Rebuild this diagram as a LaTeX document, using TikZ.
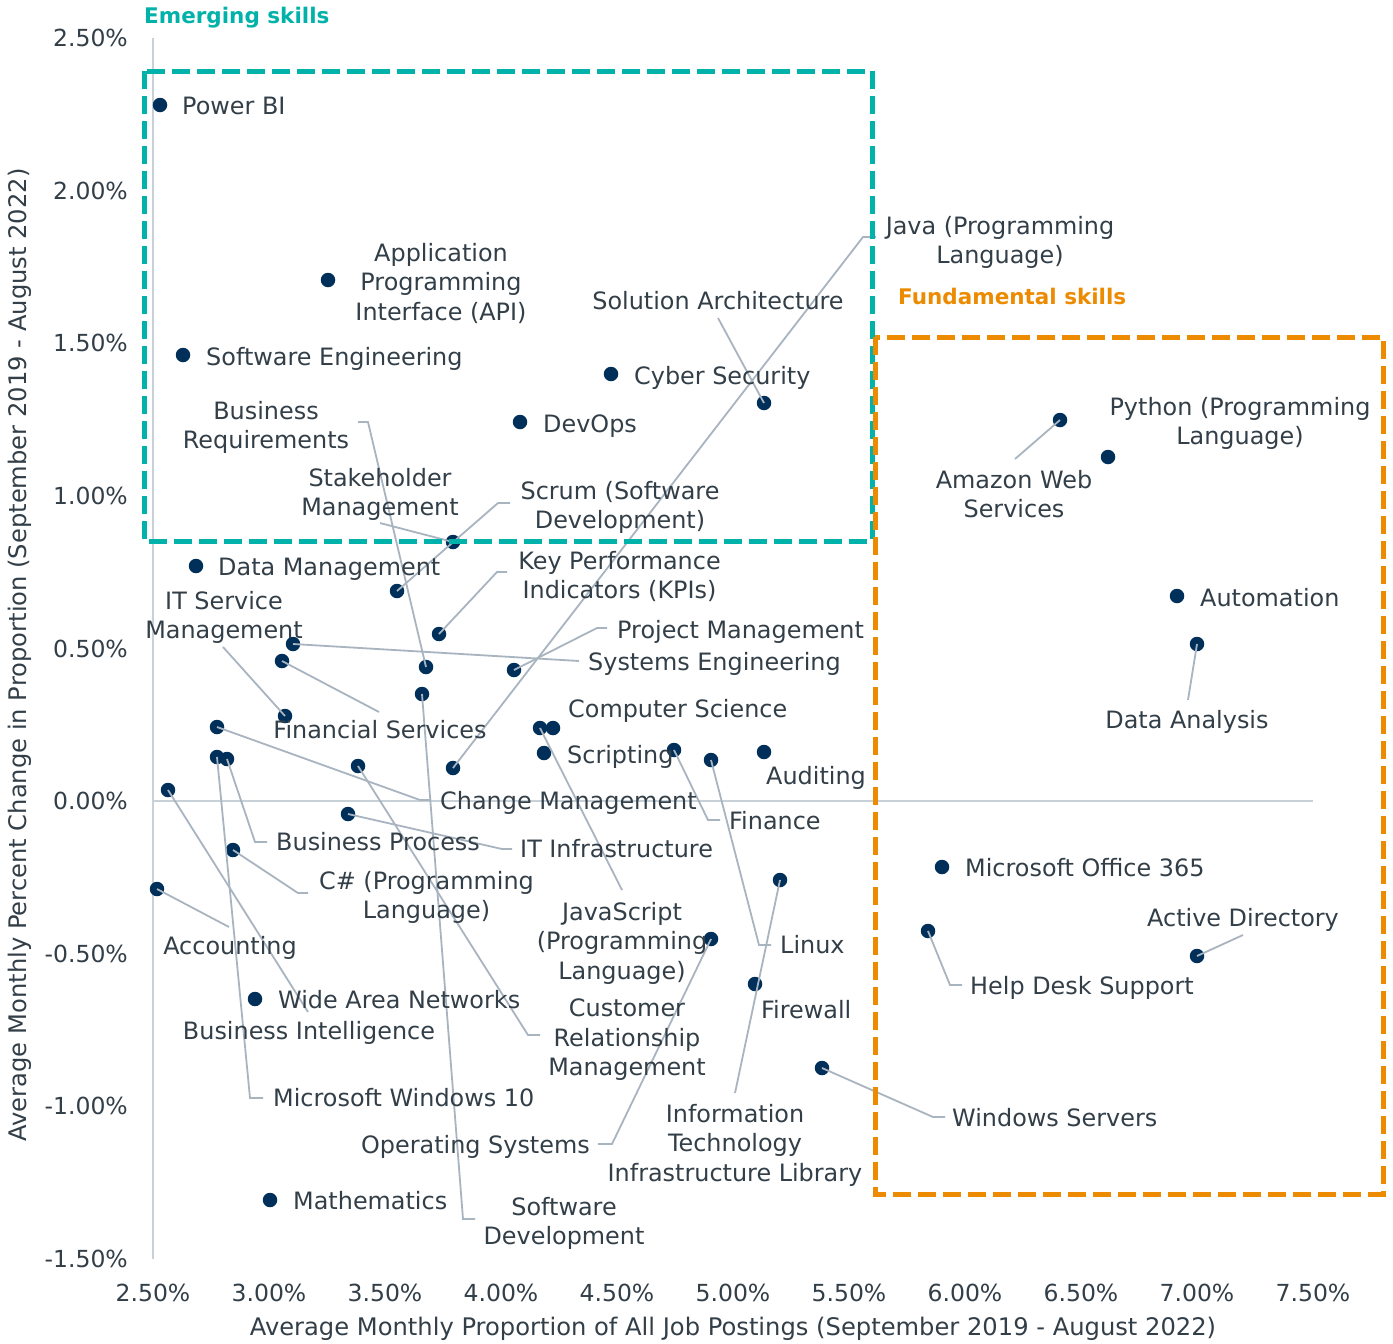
\documentclass[tikz,border=0pt]{standalone}
\usepackage{fontspec}
\setmainfont{DejaVu Sans}
\definecolor{teal}{HTML}{00B2A9}
\definecolor{orng}{HTML}{ED8B00}
\definecolor{dotc}{HTML}{00305A}
\definecolor{txtc}{HTML}{333F48}
\definecolor{leadc}{HTML}{A9B4C1}
\definecolor{axisc}{HTML}{C8D0D8}
\tikzset{
  lbl/.style={font=\fontsize{23.9}{29.5}\selectfont, text=txtc, inner sep=0pt},
  sl/.style={lbl, anchor=base west},
  slc/.style={lbl, anchor=base},
  ml/.style={lbl, align=center, anchor=north},
  tick/.style={font=\fontsize{23.5}{27}\selectfont, text=txtc, inner sep=0pt},
  axtitle/.style={font=\fontsize{24.2}{28}\selectfont, text=txtc, inner sep=0pt},
  grp/.style={font=\bfseries\fontsize{21.5}{25}\selectfont, inner sep=0pt, anchor=west},
  sdot/.style={circle, fill=dotc, inner sep=0pt, minimum size=14.5pt},
  lead/.style={draw=leadc, line width=1.8pt},
  box/.style={line width=5pt, dash pattern=on 18pt off 7pt},
}
\begin{document}
\begin{tikzpicture}[x=1pt,y=-1pt]
\fill[white] (0,0) rectangle (1393,1344);
\useasboundingbox (0,0) rectangle (1393,1344);

% axes
\draw[axisc, line width=2pt] (153,38) -- (153,1259);
\draw[axisc, line width=2pt] (153,801) -- (1313,801);

% tick labels
\foreach \v [count=\i from 0] in {2.50\%,2.00\%,1.50\%,1.00\%,0.50\%,0.00\%,-0.50\%,-1.00\%,-1.50\%}
  \node[tick, anchor=east] (yt\i) at (128,{38+\i*152.625}) {\v};
\foreach \v [count=\i from 0] in {2.50\%,3.00\%,3.50\%,4.00\%,4.50\%,5.00\%,5.50\%,6.00\%,6.50\%,7.00\%,7.50\%}
  \node[tick] (xt\i) at ({153+\i*116},1293) {\v};

\node[axtitle] (xtitle) at (733,1329) {Average Monthly Proportion of All Job Postings (September 2019 - August 2022)};
\node[axtitle, rotate=90] (ytitle) at (20,655) {Average Monthly Percent Change in Proportion (September 2019 - August 2022)};

% dots
\node[sdot] (d-pbi)  at (160,105) {};
\node[sdot] (d-api)  at (328,280) {};
\node[sdot] (d-swe)  at (183,355) {};
\node[sdot] (d-cyb)  at (611,374) {};
\node[sdot] (d-dev)  at (520,422) {};
\node[sdot] (d-sol)  at (764,403) {};
\node[sdot] (d-stk)  at (453,542) {};
\node[sdot] (d-dm)   at (196,566) {};
\node[sdot] (d-scr)  at (397,591) {};
\node[sdot] (d-kpi)  at (439,634) {};
\node[sdot] (d-sys)  at (293,644) {};
\node[sdot] (d-fin)  at (282,661) {};
\node[sdot] (d-brq)  at (426,667) {};
\node[sdot] (d-pm)   at (514,670) {};
\node[sdot] (d-sdv)  at (422,694) {};
\node[sdot] (d-itsm) at (285,716) {};
\node[sdot] (d-chg)  at (217,727) {};
\node[sdot] (d-js)   at (540,728) {};
\node[sdot] (d-cs)   at (553,728) {};
\node[sdot] (d-scp)  at (544,753) {};
\node[sdot] (d-fnc)  at (674,750) {};
\node[sdot] (d-lnx)  at (711,760) {};
\node[sdot] (d-aud)  at (764,752) {};
\node[sdot] (d-w10)  at (217,757) {};
\node[sdot] (d-bp)   at (227,759) {};
\node[sdot] (d-crm)  at (358,766) {};
\node[sdot] (d-java) at (453,768) {};
\node[sdot] (d-bi)   at (168,790) {};
\node[sdot] (d-iti)  at (348,814) {};
\node[sdot] (d-cs2)  at (233,850) {};
\node[sdot] (d-acc)  at (157,889) {};
\node[sdot] (d-itil) at (780,880) {};
\node[sdot] (d-os)   at (711,939) {};
\node[sdot] (d-fw)   at (755,984) {};
\node[sdot] (d-wan)  at (255,999) {};
\node[sdot] (d-wsv)  at (822,1068) {};
\node[sdot] (d-math) at (270,1200) {};
\node[sdot] (d-aws)  at (1060,420) {};
\node[sdot] (d-py)   at (1108,457) {};
\node[sdot] (d-auto) at (1177,596) {};
\node[sdot] (d-da)   at (1197,644) {};
\node[sdot] (d-o365) at (942,867) {};
\node[sdot] (d-hd)   at (928,931) {};
\node[sdot] (d-ad)   at (1197,956) {};

% leader end coordinates
\coordinate (c-sol)  at (718,318);
\coordinate (c-java) at (876,237);
\coordinate (c-aws)  at (1015,459);
\coordinate (c-da)   at (1188,700);
\coordinate (c-ad)   at (1243,935);
\coordinate (c-hd)   at (962,985);
\coordinate (c-wsv)  at (945,1117);
\coordinate (c-itil) at (735,1093);
\coordinate (c-lnx)  at (771,945);
\coordinate (c-fnc)  at (720,820);
\coordinate (c-js)   at (622,890);
\coordinate (c-iti)  at (512,849);
\coordinate (c-bp)   at (267,842);
\coordinate (c-w10)  at (263,1098);
\coordinate (c-chg)  at (431,800);
\coordinate (c-fin)  at (379,712);
\coordinate (c-itsm) at (223,647);
\coordinate (c-sys)  at (579,661);
\coordinate (c-pm)   at (607,628);
\coordinate (c-kpi)  at (507,572);
\coordinate (c-scr)  at (510,503);
\coordinate (c-stk)  at (380,523);
\coordinate (c-brq)  at (358,422);
\coordinate (c-sdv)  at (475,1219);
\coordinate (c-crm)  at (540,1035);
\coordinate (c-cs2)  at (308,893);
\coordinate (c-acc)  at (229,927);
\coordinate (c-bi)   at (308,1012);
\coordinate (c-os)   at (598,1144);

% leaders
\draw[lead] (d-sol.center) -- (c-sol);
\draw[lead] (d-java.center) -- (863,237) -- (c-java);
\draw[lead] (d-aws.center) -- (c-aws);
\draw[lead] (d-da.center) -- (c-da);
\draw[lead] (d-ad.center) -- (c-ad);
\draw[lead] (d-hd.center) -- (950,985) -- (c-hd);
\draw[lead] (d-wsv.center) -- (933,1117) -- (c-wsv);
\draw[lead] (d-itil.center) -- (c-itil);
\draw[lead] (d-lnx.center) -- (759,945) -- (c-lnx);
\draw[lead] (d-fnc.center) -- (708,820) -- (c-fnc);
\draw[lead] (d-js.center) -- (c-js);
\draw[lead] (d-iti.center) -- (502,849) -- (c-iti);
\draw[lead] (d-bp.center) -- (255,842) -- (c-bp);
\draw[lead] (d-w10.center) -- (250,1098) -- (c-w10);
\draw[lead] (d-chg.center) -- (420,800) -- (c-chg);
\draw[lead] (d-fin.center) -- (c-fin);
\draw[lead] (d-itsm.center) -- (c-itsm);
\draw[lead] (d-sys.center) -- (c-sys);
\draw[lead] (d-pm.center) -- (597,628) -- (c-pm);
\draw[lead] (d-kpi.center) -- (497,572) -- (c-kpi);
\draw[lead] (d-scr.center) -- (498,503) -- (c-scr);
\draw[lead] (d-stk.center) -- (c-stk);
\draw[lead] (d-brq.center) -- (368,422) -- (c-brq);
\draw[lead] (d-sdv.center) -- (463,1219) -- (c-sdv);
\draw[lead] (d-crm.center) -- (528,1035) -- (c-crm);
\draw[lead] (d-cs2.center) -- (298,893) -- (c-cs2);
\draw[lead] (d-acc.center) -- (c-acc);
\draw[lead] (d-bi.center) -- (c-bi);
\draw[lead] (d-os.center) -- (612,1144) -- (c-os);

% group boxes
\draw[box, teal] (144,71) rectangle (872,541);
\draw[box, orng] (875,337) rectangle (1383,1194);
\node[grp, text=teal] (g-em) at (144,18) {Emerging skills};
\node[grp, text=orng] (g-fu) at (898,296) {Fundamental skills};

% labels
\node[sl] (l-pbi) at (182,114.6) {Power BI};
\node[sl] (l-swe) at (206,365.6) {Software Engineering};
\node[sl] (l-cyb) at (634,384.6) {Cyber Security};
\node[sl] (l-dev) at (543,432.6) {DevOps};
\node[slc] (l-sol) at (718,309.6) {Solution Architecture};
\node[sl] (l-dm) at (218,575.6) {Data Management};
\node[sl] (l-pm) at (617,638.6) {Project Management};
\node[sl] (l-sys) at (588,670.6) {Systems Engineering};
\node[sl] (l-cs) at (568,717.6) {Computer Science};
\node[sl] (l-scp) at (567,763.6) {Scripting};
\node[sl] (l-aud) at (766,784.6) {Auditing};
\node[sl] (l-chg) at (440,809.6) {Change Management};
\node[sl] (l-fnc) at (729,829.6) {Finance};
\node[sl] (l-bp) at (276,850.6) {Business Process};
\node[sl] (l-iti) at (520,857.6) {IT Infrastructure};
\node[sl] (l-o365) at (965,876.6) {Microsoft Office 365};
\node[slc] (l-ad) at (1243,926.6) {Active Directory};
\node[slc] (l-acc) at (230,954.6) {Accounting};
\node[sl] (l-lnx) at (780,953.6) {Linux};
\node[sl] (l-hd) at (970,994.6) {Help Desk Support};
\node[sl] (l-wan) at (278,1008.6) {Wide Area Networks};
\node[sl] (l-fw) at (761,1018.6) {Firewall};
\node[slc] (l-bi) at (309,1039.6) {Business Intelligence};
\node[sl] (l-w10) at (273,1106.6) {Microsoft Windows 10};
\node[sl] (l-wsv) at (952,1126.6) {Windows Servers};
\node[lbl, anchor=base east] (l-os) at (590,1153.6) {Operating Systems};
\node[sl] (l-math) at (293,1209.6) {Mathematics};
\node[sl] (l-auto) at (1200,606.6) {Automation};
\node[slc] (l-da) at (1187,728.6) {Data Analysis};
\node[slc] (l-fin) at (380,738.6) {Financial Services};

\node[ml] (l-api) at (441,242.7) {Application\\Programming\\Interface (API)};
\node[ml] (l-java) at (1000,215.7) {Java (Programming\\Language)};
\node[ml] (l-py) at (1240,396.7) {Python (Programming\\Language)};
\node[ml] (l-aws) at (1014,469.7) {Amazon Web\\Services};
\node[ml] (l-brq) at (266,400.7) {Business\\Requirements};
\node[ml] (l-stk) at (380,467.7) {Stakeholder\\Management};
\node[ml] (l-scr) at (620,480.7) {Scrum (Software\\Development)};
\node[ml] (l-kpi) at (619.5,550.7) {Key Performance\\Indicators (KPIs)};
\node[ml] (l-itsm) at (224,590.7) {IT Service\\Management};
\node[ml] (l-cs2) at (426.5,870.7) {C\# (Programming\\Language)};
\node[ml] (l-js) at (622,901.7) {JavaScript\\(Programming\\Language)};
\node[ml] (l-crm) at (627,998.7) {Customer\\Relationship\\Management};
\node[ml] (l-itil) at (735,1103.7) {Information\\Technology\\Infrastructure Library};
\node[ml] (l-sdv) at (564,1196.7) {Software\\Development};
\end{tikzpicture}
\end{document}
